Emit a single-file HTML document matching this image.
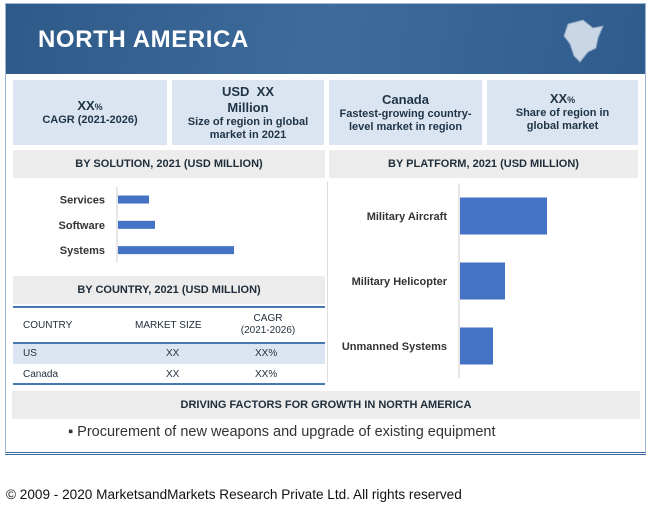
<!DOCTYPE html>
<html><head><meta charset="utf-8"><style>
body{margin:0;width:650px;height:509px;background:#fff;font-family:"Liberation Sans",sans-serif;position:relative;overflow:hidden}
div{position:absolute;box-sizing:border-box}
.kpi{background:#dbe5f1;color:#1f3347;text-align:center;font-weight:bold;font-size:11px;line-height:13px;display:flex;flex-direction:column;justify-content:center;top:80px;height:65px}
.sec{background:#ececec;color:#1f2d3a;font-weight:bold;font-size:11px;text-align:center;line-height:28px}
.t{font-size:10px;color:#1f2d3a}
</style></head><body>
<div style="left:5px;top:3px;width:641px;height:452px;border:1px solid #9db6d6;border-bottom:3px double #3b6aa0"></div>
<div style="left:6px;top:4px;width:639px;height:70px;background:linear-gradient(100deg,#2e5a89,#3d6b9b 50%,#2f5c8c)"></div>
<div style="left:38px;top:26px;color:#fff;font-weight:bold;font-size:24px;letter-spacing:0.6px">NORTH AMERICA</div>
<svg style="position:absolute;left:558px;top:16px" width="50" height="50"><path d="M10 8 L25 4 L35 12 L45 10 L40 22 L38 32 L30 36 L22 46 L16 40 L12 28 L6 20Z" fill="#c9d6e6" stroke="#8aa3c0"/></svg>
<div class="kpi" style="left:13px;width:154px"><span style="font-size:13px">XX<small style="font-size:9px">%</small></span><span>CAGR (2021-2026)</span></div>
<div class="kpi" style="left:172px;width:152px"><span style="font-size:13px;line-height:16px">USD&nbsp;&nbsp;XX<br>Million</span><span>Size of region in global<br>market in 2021</span></div>
<div class="kpi" style="left:329px;width:153px"><span style="font-size:13px;line-height:16px">Canada</span><span>Fastest-growing country-<br>level market in region</span></div>
<div class="kpi" style="left:487px;width:151px"><span style="font-size:13px">XX<small style="font-size:9px">%</small></span><span>Share of region in<br>global market</span></div>
<div class="sec" style="left:13px;top:150px;width:312px;height:28px">BY SOLUTION, 2021 (USD MILLION)</div>
<div class="sec" style="left:329px;top:150px;width:309px;height:28px">BY PLATFORM, 2021 (USD MILLION)</div>
<svg id="sol" style="position:absolute;left:0;top:180px" width="330" height="95"></svg>
<svg id="plat" style="position:absolute;left:325px;top:178px" width="320" height="210"></svg>
<div class="sec" style="left:13px;top:276px;width:312px;height:28px">BY COUNTRY, 2021 (USD MILLION)</div>
<div style="left:13px;top:306px;width:312px;height:79px;border-top:2px solid #4a78b5;border-bottom:2px solid #4a78b5">
<div style="left:0;top:34px;width:312px;height:2px;background:#4a78b5"></div>
<div style="left:0;top:36px;width:312px;height:20px;background:#dbe5f1"></div>
<div class="t" style="left:10px;top:12px">COUNTRY</div><div class="t" style="left:122px;top:12px">MARKET SIZE</div><div class="t" style="left:215px;top:5px;text-align:center;width:80px;line-height:12px">CAGR<br>(2021-2026)</div>
<div class="t" style="left:10px;top:40px">US</div><div class="t" style="left:153px;top:40px">XX</div><div class="t" style="left:242px;top:40px">XX%</div>
<div class="t" style="left:10px;top:61px">Canada</div><div class="t" style="left:153px;top:61px">XX</div><div class="t" style="left:242px;top:61px">XX%</div>
</div>
<div style="left:327px;top:182px;width:1px;height:200px;background:#ddd"></div>
<div class="sec" style="left:12px;top:391px;width:628px;height:28px">DRIVING FACTORS FOR GROWTH IN NORTH AMERICA</div>
<div style="left:68px;top:424px;font-size:14.5px;color:#333">▪ Procurement of new weapons and upgrade of existing equipment</div>
<div style="left:6px;top:487px;font-size:13.6px;color:#111">© 2009 - 2020 MarketsandMarkets Research Private Ltd. All rights reserved</div>
<script>
const solCats=["Services","Software","Systems"];
const solVals=[31,37,116];
const platCats=["Military Aircraft","Military Helicopter","Unmanned Systems"];
const platVals=[87,45,33];
const NS="http://www.w3.org/2000/svg";
function mk(svg,tag,a){const e=document.createElementNS(NS,tag);for(const k in a)e.setAttribute(k,a[k]);svg.appendChild(e);return e;}
function chart(id,cats,vals,x0,y0,band,bh,scale,fs){
 const svg=document.getElementById(id);
 const ax=mk(svg,'line',{x1:x0,y1:y0-band*0.4,x2:x0,y2:y0+band*cats.length-band*0.4,stroke:'#ccc'});
 
 cats.forEach((c,i)=>{const cy=y0+i*band+band*0.1;
  const r=mk(svg,'rect',{x:x0+1,y:cy-bh/2,width:vals[i]*scale,height:bh,fill:'#4472c4'});
  
  const t=mk(svg,'text',{x:x0-12,y:cy+4,'text-anchor':'end','font-size':fs,'font-weight':'bold',fill:'#333','font-family':'Liberation Sans'});t.textContent=c;
  });
}
chart('sol',solCats,solVals,117,17,25.3,8,1,11);
chart('plat',platCats,platVals,134,31.5,65,37,1,11);
</script>
</body></html>
